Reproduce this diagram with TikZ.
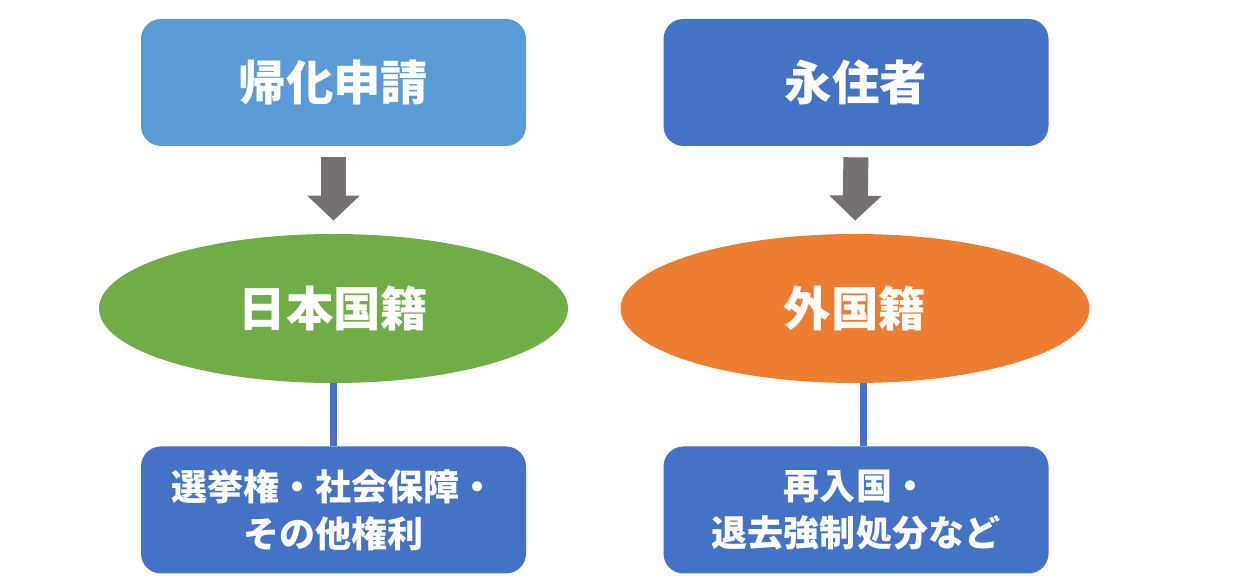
\documentclass[tikz,border=0pt]{standalone}
\usepackage{fontspec}
\newfontfamily\jpfont{Noto Sans CJK JP}
\usetikzlibrary{shapes.geometric,arrows.meta}
\definecolor{lblue}{HTML}{5B9BD5}
\definecolor{dblue}{HTML}{4472C4}
\definecolor{jgreen}{HTML}{70AD47}
\definecolor{forange}{HTML}{ED7D31}
\definecolor{agray}{HTML}{767171}
\begin{document}
\begin{tikzpicture}[
   box/.style={rectangle,rounded corners=0.4cm,minimum width=7.7cm,minimum height=2.54cm,
     inner sep=0pt,text=white,font=\jpfont\bfseries\fontsize{27}{30}\selectfont},
   smallbox/.style={box,align=center,font=\jpfont\bfseries\fontsize{20.5}{27}\selectfont},
   oval/.style={ellipse,minimum width=9.38cm,minimum height=2.98cm,inner sep=0pt,
     text=white,font=\jpfont\bfseries\fontsize{27}{30}\selectfont},
   bigarrow/.style={agray,line width=0.5cm,-{Triangle[width=1.02cm,length=0.5cm]},
     shorten <=0.22cm,shorten >=0.26cm},
   link/.style={dblue,line width=0.14cm}]
   \useasboundingbox (0,0) rectangle (25.2,11.7);

   \node[box,fill=lblue] (kika) at (6.67,10.05) {帰化申請};
   \node[box,fill=dblue] (eiju) at (17.12,10.05) {永住者};

   \node[oval,fill=jgreen] (nihon) at (6.67,5.53) {日本国籍};
   \node[oval,fill=forange] (gaikoku) at (17.1,5.53) {外国籍};

   \node[smallbox,fill=dblue] (kenri) at (6.67,1.5) {選挙権・社会保障・\\その他権利};
   \node[smallbox,fill=dblue] (shobun) at (17.12,1.5) {再入国・\\退去強制処分など};

   \draw[bigarrow] (kika) -- (nihon);
   \draw[bigarrow] (eiju.south) -- (gaikoku.north);
   \draw[link] (nihon) -- (kenri);
   \draw[link] ([xshift=0.16cm]gaikoku.south) -- ([xshift=0.16cm]gaikoku.south|-shobun.north);
 \end{tikzpicture}
\end{document}
